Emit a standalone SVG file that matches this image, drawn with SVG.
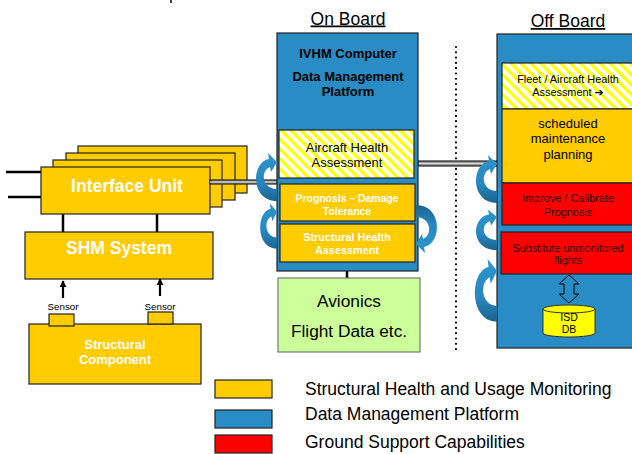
<svg xmlns="http://www.w3.org/2000/svg" width="632" height="454" viewBox="0 0 632 454">
<style>
text{font-family:"Liberation Sans",Arial,sans-serif}
.shm{fill:#FFCC00;stroke:#222;stroke-width:1.2}
.blue{fill:#2A8CC4;stroke:#222;stroke-width:1.2}
.red{fill:#FF0000;stroke:#222;stroke-width:1.2}
.hatch{fill:url(#stripes);stroke:#222;stroke-width:1.2}
.wb{fill:#fff;font-weight:bold;text-anchor:middle}
.bk{fill:#000;text-anchor:middle}
.dk{fill:#2a0000;text-anchor:middle}
.ln{stroke:#000;stroke-width:2.5;fill:none}
.bus{fill:#9a9a9a;stroke:#111;stroke-width:1.1}
.curl{fill:url(#curlgrad)}
</style>
<defs>
<pattern id="stripes" patternUnits="userSpaceOnUse" width="7" height="7" patternTransform="rotate(-45)">
<rect width="7" height="7" fill="#fff"/>
<rect width="3.2" height="7" fill="#FFFF00"/>
</pattern>
<linearGradient id="curlgrad" x1="0" y1="0" x2="0" y2="1">
<stop offset="0" stop-color="#2D95CD"/>
<stop offset="0.6" stop-color="#2888BF"/>
<stop offset="1" stop-color="#1C6390"/>
</linearGradient>
<path id="curl" d="M0 45 C-27 45 -26 6 -8 3 L-9 -3 L0 6 L-6 16 L-7 11 C-17 15 -15 33 0 33 Z"/>
<marker id="ah" viewBox="0 0 10 10" refX="9" refY="5" markerWidth="3.2" markerHeight="3.2" orient="auto">
<path d="M0 0 L10 5 L0 10 Z" fill="#000"/>
</marker>
</defs>

<line x1="171" y1="0" x2="171" y2="3" stroke="#000" stroke-width="1.5"/>

<text x="348" y="24.5" font-size="17.5" class="bk" text-decoration="underline">On Board</text>
<text x="568" y="27" font-size="17.5" class="bk" text-decoration="underline">Off Board</text>

<g id="connectors">
<line class="ln" x1="6" y1="172" x2="41" y2="172"/>
<line class="ln" x1="8" y1="197" x2="41" y2="197"/>
<line class="ln" x1="63" y1="214" x2="63" y2="232"/>
<line class="ln" x1="157" y1="214" x2="157" y2="232"/>
<line stroke="#000" stroke-width="2.2" x1="63" y1="298" x2="63" y2="281" marker-end="url(#ah)"/>
<line stroke="#000" stroke-width="2.2" x1="160" y1="296" x2="160" y2="279" marker-end="url(#ah)"/>
<line class="ln" x1="347" y1="262" x2="347" y2="278"/>
<line x1="456" y1="47" x2="456" y2="353" stroke="#000" stroke-width="2.2" stroke-linecap="round" stroke-dasharray="0 5.3"/>
</g>

<g id="interface-unit">
<rect class="shm" x="78" y="146" width="169" height="47"/>
<rect class="shm" x="66" y="153" width="169" height="47"/>
<rect class="shm" x="53" y="160" width="169" height="47"/>
<rect class="shm" x="41" y="167" width="169" height="47"/>
<text x="127" y="192" font-size="17.5" class="wb">Interface Unit</text>
</g>

<g id="bus-lines">
<rect class="bus" x="210" y="180" width="67" height="4"/>
<line x1="210" y1="182" x2="277" y2="182" stroke="#ddd" stroke-width="1"/>
<rect class="bus" x="418" y="161" width="81" height="5"/>
<line x1="418" y1="163.5" x2="499" y2="163.5" stroke="#ddd" stroke-width="1"/>
</g>

<g id="shm-system">
<rect class="shm" x="25" y="232" width="188" height="47"/>
<text x="119" y="254" font-size="17.5" class="wb">SHM System</text>
</g>

<g id="structural-component">
<rect class="shm" x="29" y="324" width="172" height="60"/>
<text x="115" y="349" font-size="13" class="wb">Structural</text>
<text x="115" y="364" font-size="13" class="wb">Component</text>
</g>

<g id="sensor-1">
<rect class="shm" x="49" y="314" width="25" height="12"/>
<text x="63" y="310" font-size="9.8" class="bk">Sensor</text>
</g>
<g id="sensor-2">
<rect class="shm" x="148" y="312" width="25" height="12"/>
<text x="160" y="310" font-size="9.8" class="bk">Sensor</text>
</g>

<g id="on-board">
<rect class="blue" x="277" y="33" width="141" height="238"/>
<text x="348" y="57.5" font-size="13" font-weight="bold" class="bk">IVHM Computer</text>
<text x="348" y="81" font-size="13" font-weight="bold" class="bk">Data Management</text>
<text x="348" y="96" font-size="13" font-weight="bold" class="bk">Platform</text>
</g>

<g id="aircraft-health">
<rect class="hatch" x="279" y="130" width="135" height="48"/>
<text x="347" y="152" font-size="13" class="bk">Aircraft Health</text>
<text x="347" y="167" font-size="13" class="bk">Assessment</text>
</g>

<g id="prognosis">
<rect class="shm" x="280" y="184" width="135" height="37"/>
<text x="347" y="202" font-size="10.4" class="wb">Prognosis – Damage</text>
<text x="347" y="215" font-size="10.4" class="wb">Tolerance</text>
</g>

<g id="structural-health">
<rect class="shm" x="280" y="224" width="135" height="38"/>
<text x="347" y="241" font-size="10.9" class="wb">Structural Health</text>
<text x="347" y="254" font-size="10.9" class="wb">Assessment</text>
</g>

<g id="avionics">
<rect x="278" y="278" width="142" height="74" fill="#CCFF99" stroke="#777" stroke-width="1.2"/>
<text x="349" y="307" font-size="17.3" class="bk">Avionics</text>
<text x="349" y="337" font-size="17.3" class="bk">Flight Data etc.</text>
</g>

<g id="off-board">
<rect class="blue" x="497" y="34" width="145" height="314"/>
</g>

<g id="fleet-health">
<rect class="hatch" x="502" y="63" width="140" height="46"/>
<text x="568" y="83" font-size="10.9" class="bk">Fleet / Aircraft Health</text>
<text x="568" y="96" font-size="10.9" class="bk">Assessment <tspan font-family="'DejaVu Sans',sans-serif" font-weight="bold">➔</tspan></text>
</g>

<g id="scheduled-maintenance">
<rect class="shm" x="502" y="109" width="140" height="74"/>
<text x="568" y="128" font-size="13" class="bk">scheduled</text>
<text x="568" y="143" font-size="13" class="bk">maintenance</text>
<text x="568" y="159" font-size="13" class="bk">planning</text>
</g>

<g id="improve-calibrate">
<rect class="red" x="502" y="183" width="140" height="42"/>
<text x="568" y="202" font-size="10.9" class="dk">Improve / Calibrate</text>
<text x="568" y="216" font-size="10.9" class="dk">Prognosis</text>
</g>

<g id="substitute-flights">
<rect class="red" x="501" y="232" width="141" height="42"/>
<text x="568" y="252" font-size="10.8" class="dk">Substitute unmonitored</text>
<text x="568" y="264" font-size="10.8" class="dk">flights</text>
</g>

<g id="db-link">
<path d="M569 275 L559 284 L564 284 L564 294 L559 294 L569 303 L579 294 L574 294 L574 284 L579 284 Z" fill="none" stroke="#000" stroke-width="1"/>
</g>

<g id="isd-db">
<path d="M543 309 A26 4 0 0 1 595 309 V333 A26 4 0 0 1 543 333 Z" fill="#FFFF00" stroke="#333" stroke-width="1"/>
<path d="M543 309 A26 4 0 0 0 595 309" fill="none" stroke="#333" stroke-width="1"/>
<text x="569" y="321" font-size="10.5" class="bk">ISD</text>
<text x="569" y="333" font-size="10.5" class="bk">DB</text>
</g>

<g id="cycle-arrows">
<use href="#curl" class="curl" transform="translate(277,156)"/>
<use href="#curl" class="curl" transform="translate(277,206) scale(0.8,0.95)"/>
<use href="#curl" class="curl" transform="translate(416,250) rotate(180)"/>
<use href="#curl" class="curl" transform="translate(497,158)"/>
<use href="#curl" class="curl" transform="translate(497,212) scale(1,0.85)"/>
<use href="#curl" class="curl" transform="translate(497,263) scale(1.05,1.3)"/>
</g>

<g id="legend">
<rect class="shm" x="215" y="380" width="57" height="18"/>
<rect class="blue" x="215" y="410" width="57" height="18"/>
<rect class="red" x="215" y="435" width="57" height="18"/>
<text x="305" y="395" font-size="17.5" fill="#000">Structural Health and Usage Monitoring</text>
<text x="305" y="420" font-size="17.5" fill="#000">Data Management Platform</text>
<text x="305" y="448" font-size="17.5" fill="#000">Ground Support Capabilities</text>
</g>
</svg>
